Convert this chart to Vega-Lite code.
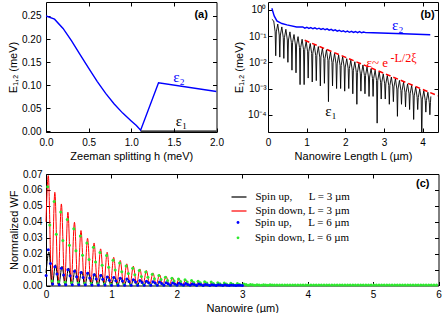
{
"$schema": "https://vega.github.io/schema/vega-lite/v6.json",
"padding": {"left": 7, "top": 1, "right": 0, "bottom": 0},
"config": {
  "view": {"stroke": "black", "strokeWidth": 1},
  "axis": {"domain": false, "grid": false, "tickSize": -4, "tickColor": "black", "tickWidth": 1, "labelFont": "Liberation Sans", "labelFontSize": 10, "labelColor": "black", "titleFont": "Liberation Sans", "titleFontSize": 11, "titleFontWeight": "normal", "titleColor": "black", "labelPadding": 9, "labelFlush": false, "labelOverlap": false, "titlePadding": 3},
  "legend": {"labelFont": "Liberation Serif", "labelFontSize": 11, "labelColor": "black", "padding": 0}
},
"datasets": {
  "a2": [{"h":0,"e":0.25},{"h":0.1,"e":0.243},{"h":0.2,"e":0.223},{"h":0.3,"e":0.196},{"h":0.4,"e":0.166},{"h":0.5,"e":0.137},{"h":0.6,"e":0.108},{"h":0.7,"e":0.082},{"h":0.8,"e":0.059},{"h":0.9,"e":0.039},{"h":1.0,"e":0.022},{"h":1.06,"e":0.012},{"h":1.11,"e":0.002},{"h":1.32,"e":0.105},{"h":2.0,"e":0.086}],
  "a1": [{"h":1.11,"e":0},{"h":2.0,"e":0}],
  "b1": [{"L":0.1,"v":0.437},{"L":0.148,"v":0.38},{"L":0.185,"v":0.145},{"L":0.2,"v":0.0178},{"L":0.215,"v":0.145},{"L":0.253,"v":0.288},{"L":0.29,"v":0.11},{"L":0.305,"v":0.0158},{"L":0.32,"v":0.11},{"L":0.358,"v":0.224},{"L":0.395,"v":0.0871},{"L":0.41,"v":0.0141},{"L":0.425,"v":0.0871},{"L":0.463,"v":0.182},{"L":0.5,"v":0.0708},{"L":0.515,"v":0.01},{"L":0.53,"v":0.0708},{"L":0.568,"v":0.145},{"L":0.605,"v":0.0562},{"L":0.62,"v":0.00501},{"L":0.635,"v":0.0562},{"L":0.673,"v":0.115},{"L":0.71,"v":0.0457},{"L":0.725,"v":0.00398},{"L":0.74,"v":0.0457},{"L":0.778,"v":0.0955},{"L":0.815,"v":0.0363},{"L":0.83,"v":0.00141},{"L":0.845,"v":0.0363},{"L":0.883,"v":0.0759},{"L":0.92,"v":0.0302},{"L":0.935,"v":0.00141},{"L":0.95,"v":0.0302},{"L":0.988,"v":0.0631},{"L":1.025,"v":0.0251},{"L":1.04,"v":0.00251},{"L":1.055,"v":0.0251},{"L":1.093,"v":0.0525},{"L":1.13,"v":0.0219},{"L":1.145,"v":0.00178},{"L":1.16,"v":0.0219},{"L":1.198,"v":0.0457},{"L":1.235,"v":0.0182},{"L":1.25,"v":0.002},{"L":1.265,"v":0.0182},{"L":1.303,"v":0.0398},{"L":1.34,"v":0.0158},{"L":1.355,"v":0.00126},{"L":1.37,"v":0.0158},{"L":1.408,"v":0.0347},{"L":1.445,"v":0.0138},{"L":1.46,"v":0.00158},{"L":1.475,"v":0.0138},{"L":1.513,"v":0.0302},{"L":1.55,"v":0.012},{"L":1.565,"v":0.000316},{"L":1.58,"v":0.012},{"L":1.618,"v":0.0251},{"L":1.655,"v":0.01},{"L":1.67,"v":0.00126},{"L":1.685,"v":0.01},{"L":1.723,"v":0.0219},{"L":1.76,"v":0.00871},{"L":1.775,"v":0.001},{"L":1.79,"v":0.00871},{"L":1.828,"v":0.0191},{"L":1.865,"v":0.00759},{"L":1.88,"v":0.001},{"L":1.895,"v":0.00759},{"L":1.933,"v":0.0166},{"L":1.97,"v":0.00661},{"L":1.985,"v":0.000794},{"L":2.0,"v":0.00661},{"L":2.038,"v":0.0138},{"L":2.075,"v":0.00575},{"L":2.09,"v":0.001},{"L":2.105,"v":0.00575},{"L":2.143,"v":0.012},{"L":2.18,"v":0.00501},{"L":2.195,"v":0.000631},{"L":2.21,"v":0.00501},{"L":2.248,"v":0.0105},{"L":2.285,"v":0.00417},{"L":2.3,"v":0.000251},{"L":2.315,"v":0.00417},{"L":2.353,"v":0.00912},{"L":2.39,"v":0.00363},{"L":2.405,"v":0.000794},{"L":2.42,"v":0.00363},{"L":2.458,"v":0.00794},{"L":2.495,"v":0.00316},{"L":2.51,"v":0.000631},{"L":2.525,"v":0.00316},{"L":2.563,"v":0.00661},{"L":2.6,"v":0.00275},{"L":2.615,"v":0.000501},{"L":2.63,"v":0.00275},{"L":2.668,"v":0.00575},{"L":2.705,"v":0.0024},{"L":2.72,"v":0.000501},{"L":2.735,"v":0.0024},{"L":2.773,"v":0.00501},{"L":2.81,"v":0.002},{"L":2.825,"v":0.0000479},{"L":2.84,"v":0.002},{"L":2.878,"v":0.00437},{"L":2.915,"v":0.00174},{"L":2.93,"v":0.000398},{"L":2.945,"v":0.00174},{"L":2.983,"v":0.00363},{"L":3.02,"v":0.00151},{"L":3.035,"v":0.000398},{"L":3.05,"v":0.00151},{"L":3.088,"v":0.00316},{"L":3.125,"v":0.00132},{"L":3.14,"v":0.000251},{"L":3.155,"v":0.00132},{"L":3.193,"v":0.00275},{"L":3.23,"v":0.00115},{"L":3.245,"v":0.000316},{"L":3.26,"v":0.00115},{"L":3.298,"v":0.0024},{"L":3.335,"v":0.000955},{"L":3.35,"v":0.0000871},{"L":3.365,"v":0.000955},{"L":3.403,"v":0.00204},{"L":3.44,"v":0.000832},{"L":3.455,"v":0.000251},{"L":3.47,"v":0.000832},{"L":3.508,"v":0.00174},{"L":3.545,"v":0.000724},{"L":3.56,"v":0.0002},{"L":3.575,"v":0.000724},{"L":3.613,"v":0.00151},{"L":3.65,"v":0.000631},{"L":3.665,"v":0.000158},{"L":3.68,"v":0.000631},{"L":3.718,"v":0.00132},{"L":3.755,"v":0.000525},{"L":3.77,"v":0.0000661},{"L":3.785,"v":0.000525},{"L":3.823,"v":0.00115},{"L":3.86,"v":0.000457},{"L":3.875,"v":0.000158},{"L":3.89,"v":0.000457},{"L":3.928,"v":0.000955},{"L":3.965,"v":0.000398},{"L":3.98,"v":0.00001},{"L":3.995,"v":0.000398},{"L":4.033,"v":0.000832},{"L":4.07,"v":0.000347},{"L":4.085,"v":0.000126},{"L":4.1,"v":0.000347},{"L":4.138,"v":0.000724},{"L":4.175,"v":0.000288},{"L":4.19,"v":0.0001},{"L":4.205,"v":0.000288},{"L":4.215,"v":0.0005}],
  "b2": [{"L":0.1,"v":1.16},{"L":0.16,"v":0.589},{"L":0.23,"v":0.38},{"L":0.36,"v":0.302},{"L":0.49,"v":0.269},{"L":0.74,"v":0.224},{"L":0.9,"v":0.225},{"L":0.9525,"v":0.202},{"L":1.005,"v":0.218},{"L":1.0575,"v":0.196},{"L":1.11,"v":0.212},{"L":1.1625,"v":0.191},{"L":1.215,"v":0.207},{"L":1.2675,"v":0.186},{"L":1.32,"v":0.201},{"L":1.3725,"v":0.181},{"L":1.425,"v":0.195},{"L":1.4775,"v":0.175},{"L":1.53,"v":0.189},{"L":1.5825,"v":0.169},{"L":1.635,"v":0.181},{"L":1.6875,"v":0.162},{"L":1.74,"v":0.174},{"L":1.7925,"v":0.155},{"L":1.845,"v":0.167},{"L":1.8975,"v":0.149},{"L":1.95,"v":0.16},{"L":2.0025,"v":0.143},{"L":2.055,"v":0.155},{"L":2.1075,"v":0.14},{"L":2.16,"v":0.152},{"L":2.2125,"v":0.138},{"L":2.265,"v":0.15},{"L":2.3175,"v":0.136},{"L":2.37,"v":0.148},{"L":2.4225,"v":0.134},{"L":2.475,"v":0.143},{"L":2.5275,"v":0.136},{"L":2.72,"v":0.135},{"L":3.5,"v":0.123},{"L":4.2,"v":0.112}],
  "bfit": [{"L":0.95,"v":0.0693},{"L":4.4,"v":0.000527}],
  "cred": [{"x":0,"y":0.04},{"x":0.035,"y":0.069},{"x":0.085,"y":0.001},{"x":0.135,"y":0.0585},{"x":0.185,"y":0.001},{"x":0.235,"y":0.0512},{"x":0.285,"y":0.001},{"x":0.335,"y":0.046},{"x":0.385,"y":0.001},{"x":0.435,"y":0.0397},{"x":0.485,"y":0.001},{"x":0.535,"y":0.0345},{"x":0.585,"y":0.001},{"x":0.635,"y":0.0297},{"x":0.685,"y":0.001},{"x":0.735,"y":0.0267},{"x":0.785,"y":0.001},{"x":0.835,"y":0.023},{"x":0.885,"y":0.001},{"x":0.935,"y":0.0209},{"x":0.985,"y":0.001},{"x":1.035,"y":0.0177},{"x":1.085,"y":0.001},{"x":1.135,"y":0.0157},{"x":1.185,"y":0.0008},{"x":1.235,"y":0.0136},{"x":1.285,"y":0.0006},{"x":1.335,"y":0.0121},{"x":1.385,"y":0.0005},{"x":1.435,"y":0.0104},{"x":1.485,"y":0.0004},{"x":1.535,"y":0.0094},{"x":1.585,"y":0.0003},{"x":1.635,"y":0.0079},{"x":1.685,"y":0.0003},{"x":1.735,"y":0.0069},{"x":1.785,"y":0.0003},{"x":1.835,"y":0.0058},{"x":1.885,"y":0.0002},{"x":1.935,"y":0.005},{"x":1.985,"y":0.0002},{"x":2.035,"y":0.0041},{"x":2.085,"y":0.0002},{"x":2.135,"y":0.0035},{"x":2.185,"y":0.0001},{"x":2.235,"y":0.0029},{"x":2.285,"y":0.0001},{"x":2.335,"y":0.0025},{"x":2.385,"y":0.0001},{"x":2.435,"y":0.0021},{"x":2.485,"y":0.0001},{"x":2.535,"y":0.0017},{"x":2.585,"y":0.0001},{"x":2.635,"y":0.0014},{"x":2.685,"y":0},{"x":2.735,"y":0.0011},{"x":2.785,"y":0},{"x":2.835,"y":0.0008},{"x":2.885,"y":0},{"x":2.935,"y":0.0005},{"x":3.0,"y":0}],
  "cblack": [{"x":0,"y":0.008},{"x":0.045,"y":0.021},{"x":0.095,"y":0},{"x":0.145,"y":0.013},{"x":0.195,"y":0},{"x":0.245,"y":0.012},{"x":0.295,"y":0},{"x":0.345,"y":0.011},{"x":0.395,"y":0},{"x":0.445,"y":0.01},{"x":0.495,"y":0},{"x":0.545,"y":0.009},{"x":0.595,"y":0},{"x":0.645,"y":0.0085},{"x":0.695,"y":0},{"x":0.745,"y":0.0075},{"x":0.795,"y":0},{"x":0.845,"y":0.007},{"x":0.895,"y":0},{"x":0.945,"y":0.006},{"x":0.995,"y":0},{"x":1.045,"y":0.0055},{"x":1.095,"y":0},{"x":1.145,"y":0.005},{"x":1.195,"y":0},{"x":1.245,"y":0.0045},{"x":1.295,"y":0},{"x":1.345,"y":0.004},{"x":1.395,"y":0},{"x":1.445,"y":0.0035},{"x":1.495,"y":0},{"x":1.545,"y":0.003},{"x":1.595,"y":0},{"x":1.645,"y":0.0027},{"x":1.695,"y":0},{"x":1.745,"y":0.0024},{"x":1.795,"y":0},{"x":1.845,"y":0.002},{"x":1.895,"y":0},{"x":1.945,"y":0.0018},{"x":1.995,"y":0},{"x":2.045,"y":0.0015},{"x":2.095,"y":0},{"x":2.145,"y":0.0013},{"x":2.195,"y":0},{"x":2.245,"y":0.0011},{"x":2.295,"y":0},{"x":2.345,"y":0.001},{"x":2.395,"y":0},{"x":2.445,"y":0.0008},{"x":2.495,"y":0},{"x":2.545,"y":0.0006},{"x":2.595,"y":0},{"x":2.645,"y":0.0005},{"x":2.695,"y":0},{"x":2.745,"y":0.0004},{"x":2.795,"y":0},{"x":2.845,"y":0.0003},{"x":2.895,"y":0},{"x":2.945,"y":0.0002},{"x":3.0,"y":0}],
  "cgreen": [{"x":0.025,"y":0.062},{"x":0.058,"y":0.038},{"x":0.092,"y":0.0028},{"x":0.125,"y":0.0527},{"x":0.158,"y":0.0322},{"x":0.192,"y":0.0023},{"x":0.225,"y":0.0461},{"x":0.258,"y":0.0282},{"x":0.292,"y":0.002},{"x":0.325,"y":0.0414},{"x":0.358,"y":0.0253},{"x":0.392,"y":0.0018},{"x":0.425,"y":0.0357},{"x":0.458,"y":0.0218},{"x":0.492,"y":0.0016},{"x":0.525,"y":0.031},{"x":0.558,"y":0.019},{"x":0.592,"y":0.0014},{"x":0.625,"y":0.0267},{"x":0.658,"y":0.0163},{"x":0.692,"y":0.0012},{"x":0.725,"y":0.024},{"x":0.758,"y":0.0147},{"x":0.792,"y":0.0011},{"x":0.825,"y":0.0207},{"x":0.858,"y":0.0127},{"x":0.892,"y":0.0009},{"x":0.925,"y":0.0188},{"x":0.958,"y":0.0115},{"x":0.992,"y":0.0008},{"x":1.025,"y":0.0159},{"x":1.058,"y":0.0097},{"x":1.092,"y":0.0007},{"x":1.125,"y":0.0141},{"x":1.158,"y":0.0086},{"x":1.192,"y":0.0006},{"x":1.225,"y":0.0122},{"x":1.258,"y":0.0075},{"x":1.292,"y":0.0005},{"x":1.325,"y":0.0109},{"x":1.358,"y":0.0067},{"x":1.392,"y":0.0005},{"x":1.425,"y":0.0094},{"x":1.458,"y":0.0057},{"x":1.492,"y":0.0004},{"x":1.525,"y":0.0085},{"x":1.558,"y":0.0052},{"x":1.592,"y":0.0004},{"x":1.625,"y":0.0071},{"x":1.658,"y":0.0043},{"x":1.692,"y":0.0003},{"x":1.725,"y":0.0062},{"x":1.758,"y":0.0038},{"x":1.792,"y":0.0003},{"x":1.825,"y":0.0052},{"x":1.858,"y":0.0032},{"x":1.892,"y":0.0002},{"x":1.925,"y":0.0045},{"x":1.958,"y":0.0028},{"x":1.992,"y":0.0002},{"x":2.025,"y":0.0041},{"x":2.058,"y":0.0025},{"x":2.092,"y":0.0002},{"x":2.125,"y":0.0036},{"x":2.158,"y":0.0022},{"x":2.192,"y":0.0002},{"x":2.225,"y":0.0032},{"x":2.258,"y":0.0019},{"x":2.292,"y":0.0001},{"x":2.325,"y":0.0027},{"x":2.358,"y":0.0017},{"x":2.392,"y":0.0001},{"x":2.425,"y":0.0024},{"x":2.458,"y":0.0015},{"x":2.492,"y":0.0001},{"x":2.525,"y":0.0022},{"x":2.558,"y":0.0013},{"x":2.592,"y":0.0001},{"x":2.625,"y":0.0018},{"x":2.658,"y":0.0011},{"x":2.692,"y":0.0001},{"x":2.725,"y":0.0016},{"x":2.758,"y":0.001},{"x":2.792,"y":0.0001},{"x":2.825,"y":0.0014},{"x":2.858,"y":0.0008},{"x":2.892,"y":0.0001},{"x":2.925,"y":0.0012},{"x":2.958,"y":0.0007},{"x":2.992,"y":0.0001},{"x":3.025,"y":0.0009},{"x":3.058,"y":0.0006},{"x":3.092,"y":0.0002},{"x":3.125,"y":0.0007},{"x":3.158,"y":0.0004},{"x":3.192,"y":0.0002},{"x":3.225,"y":0.0005},{"x":3.258,"y":0.0003},{"x":3.292,"y":0.0002},{"x":3.325,"y":0.0004},{"x":3.358,"y":0.0003},{"x":3.392,"y":0.0002},{"x":3.425,"y":0.0004},{"x":3.458,"y":0.0003},{"x":3.492,"y":0.0003},{"x":3.53,"y":0.0003},{"x":3.57,"y":0.0003},{"x":3.61,"y":0.0003},{"x":3.65,"y":0.0003},{"x":3.69,"y":0.0003},{"x":3.73,"y":0.0003},{"x":3.77,"y":0.0003},{"x":3.81,"y":0.0003},{"x":3.85,"y":0.0003},{"x":3.89,"y":0.0003},{"x":3.93,"y":0.0003},{"x":3.97,"y":0.0003},{"x":4.01,"y":0.0003},{"x":4.05,"y":0.0003},{"x":4.09,"y":0.0003},{"x":4.13,"y":0.0003},{"x":4.17,"y":0.0003},{"x":4.21,"y":0.0003},{"x":4.25,"y":0.0003},{"x":4.29,"y":0.0003},{"x":4.33,"y":0.0003},{"x":4.37,"y":0.0003},{"x":4.41,"y":0.0003},{"x":4.45,"y":0.0003},{"x":4.49,"y":0.0003},{"x":4.53,"y":0.0003},{"x":4.57,"y":0.0003},{"x":4.61,"y":0.0003},{"x":4.65,"y":0.0003},{"x":4.69,"y":0.0003},{"x":4.73,"y":0.0003},{"x":4.77,"y":0.0003},{"x":4.81,"y":0.0003},{"x":4.85,"y":0.0003},{"x":4.89,"y":0.0003},{"x":4.93,"y":0.0003},{"x":4.97,"y":0.0003},{"x":5.01,"y":0.0003},{"x":5.05,"y":0.0003},{"x":5.09,"y":0.0003},{"x":5.13,"y":0.0003},{"x":5.17,"y":0.0003},{"x":5.21,"y":0.0003},{"x":5.25,"y":0.0003},{"x":5.29,"y":0.0003},{"x":5.33,"y":0.0003},{"x":5.37,"y":0.0003},{"x":5.41,"y":0.0003},{"x":5.45,"y":0.0003},{"x":5.49,"y":0.0003},{"x":5.53,"y":0.0003},{"x":5.57,"y":0.0003},{"x":5.61,"y":0.0003},{"x":5.65,"y":0.0003},{"x":5.69,"y":0.0003},{"x":5.73,"y":0.0003},{"x":5.77,"y":0.0003},{"x":5.81,"y":0.0003},{"x":5.85,"y":0.0003},{"x":5.89,"y":0.0003},{"x":5.93,"y":0.0003},{"x":5.97,"y":0.0003}],
  "cblue": [{"x":0.002,"y":0.0063},{"x":0.035,"y":0.0225},{"x":0.068,"y":0.0138},{"x":0.102,"y":0.001},{"x":0.135,"y":0.0117},{"x":0.168,"y":0.0072},{"x":0.202,"y":0.0005},{"x":0.235,"y":0.0108},{"x":0.268,"y":0.0066},{"x":0.302,"y":0.0005},{"x":0.335,"y":0.0099},{"x":0.368,"y":0.0061},{"x":0.402,"y":0.0004},{"x":0.435,"y":0.009},{"x":0.468,"y":0.0055},{"x":0.502,"y":0.0004},{"x":0.535,"y":0.0081},{"x":0.568,"y":0.005},{"x":0.602,"y":0.0004},{"x":0.635,"y":0.0077},{"x":0.668,"y":0.0047},{"x":0.702,"y":0.0003},{"x":0.735,"y":0.0068},{"x":0.768,"y":0.0041},{"x":0.802,"y":0.0003},{"x":0.835,"y":0.0063},{"x":0.868,"y":0.0039},{"x":0.902,"y":0.0003},{"x":0.935,"y":0.0054},{"x":0.968,"y":0.0033},{"x":1.002,"y":0.0002},{"x":1.035,"y":0.005},{"x":1.068,"y":0.003},{"x":1.102,"y":0.0002},{"x":1.135,"y":0.0045},{"x":1.168,"y":0.0028},{"x":1.202,"y":0.0002},{"x":1.235,"y":0.0041},{"x":1.268,"y":0.0025},{"x":1.302,"y":0.0002},{"x":1.335,"y":0.0036},{"x":1.368,"y":0.0022},{"x":1.402,"y":0.0002},{"x":1.435,"y":0.0032},{"x":1.468,"y":0.0019},{"x":1.502,"y":0.0001},{"x":1.535,"y":0.0027},{"x":1.568,"y":0.0017},{"x":1.602,"y":0.0001},{"x":1.635,"y":0.0024},{"x":1.668,"y":0.0015},{"x":1.702,"y":0.0001},{"x":1.735,"y":0.0022},{"x":1.768,"y":0.0013},{"x":1.802,"y":0.0001},{"x":1.835,"y":0.0018},{"x":1.868,"y":0.0011},{"x":1.902,"y":0.0001},{"x":1.935,"y":0.0016},{"x":1.968,"y":0.001},{"x":2.002,"y":0.0001},{"x":2.035,"y":0.0014},{"x":2.068,"y":0.0008},{"x":2.102,"y":0.0001},{"x":2.135,"y":0.0012},{"x":2.168,"y":0.0007},{"x":2.202,"y":0.0001},{"x":2.235,"y":0.001},{"x":2.268,"y":0.0006},{"x":2.302,"y":0},{"x":2.335,"y":0.0009},{"x":2.368,"y":0.0006},{"x":2.402,"y":0},{"x":2.435,"y":0.0007},{"x":2.468,"y":0.0004},{"x":2.502,"y":0},{"x":2.535,"y":0.0005},{"x":2.568,"y":0.0003},{"x":2.602,"y":0},{"x":2.635,"y":0.0005},{"x":2.668,"y":0.0003},{"x":2.702,"y":0},{"x":2.735,"y":0.0004},{"x":2.768,"y":0.0002},{"x":2.802,"y":0},{"x":2.835,"y":0.0003},{"x":2.868,"y":0.0002},{"x":2.902,"y":0},{"x":2.935,"y":0.0002},{"x":2.968,"y":0.0001},{"x":3.002,"y":0}]
},
"vconcat": [
  {"hconcat": [
    {"width": 170.5, "height": 130,
     "layer": [
      {"data": {"name": "a2"}, "mark": {"type": "line", "color": "#0000ff", "strokeWidth": 1.4, "clip": true},
       "encoding": {
        "x": {"field": "h", "type": "quantitative", "scale": {"domain": [0, 2], "nice": false}, "axis": {"orient": "bottom", "values": [0, 0.5, 1, 1.5, 2], "format": ".1f", "title": "Zeeman splitting h (meV)"}},
        "y": {"field": "e", "type": "quantitative", "scale": {"domain": [-0.002, 0.2804], "nice": false, "zero": false}, "axis": {"orient": "left", "values": [0, 0.05, 0.1, 0.15, 0.2, 0.25], "format": ".2f", "title": "E₁,₂ (meV)"}}}},
      {"data": {"name": "a1"}, "mark": {"type": "line", "color": "black", "strokeWidth": 1.4},
       "encoding": {
        "x": {"field": "h", "type": "quantitative", "axis": {"orient": "top", "values": [0.5, 1, 1.5], "labels": false, "title": null}},
        "y": {"field": "e", "type": "quantitative", "axis": {"orient": "right", "values": [0.05, 0.1, 0.15, 0.2, 0.25], "labels": false, "title": null}}}},
      {"data": {"values": [{}]}, "mark": {"type": "text", "font": "Liberation Serif", "fontSize": 15, "color": "#0000ff"},
       "encoding": {"x": {"datum": 1.56, "type": "quantitative", "axis": null}, "y": {"datum": 0.118, "type": "quantitative", "axis": null}, "text": {"value": "ε₂"}}},
      {"data": {"values": [{}]}, "mark": {"type": "text", "font": "Liberation Serif", "fontSize": 15, "color": "black"},
       "encoding": {"x": {"datum": 1.59, "type": "quantitative", "axis": null}, "y": {"datum": 0.021, "type": "quantitative", "axis": null}, "text": {"value": "ε₁"}}},
      {"data": {"values": [{}]}, "mark": {"type": "text", "font": "Liberation Sans", "fontSize": 11, "fontWeight": "bold", "color": "black"},
       "encoding": {"x": {"datum": 1.82, "type": "quantitative", "axis": null}, "y": {"datum": 0.252, "type": "quantitative", "axis": null}, "text": {"value": "(a)"}}}
     ],
     "resolve": {"axis": {"x": "independent", "y": "independent"}}
    },
    {"width": 170, "height": 130,
     "layer": [
      {"data": {"name": "b1"}, "mark": {"type": "line", "color": "black", "strokeWidth": 0.9, "clip": true},
       "encoding": {
        "x": {"field": "L", "type": "quantitative", "scale": {"domain": [0, 4.4], "nice": false}, "axis": {"orient": "bottom", "values": [0, 1, 2, 3, 4], "format": "d", "title": "Nanowire Length L (µm)"}},
        "y": {"field": "v", "type": "quantitative", "scale": {"type": "log", "domain": [0.000022, 2.0], "nice": false}, "axis": {"orient": "left", "values": [1, 0.1, 0.01, 0.001, 0.0001], "labelExpr": "'10' + ['⁰','⁻¹','⁻²','⁻³','⁻⁴','⁻⁵'][round(-log(datum.value)/LN10)]", "labelPadding": 6, "title": "E₁,₂ (meV)"}}}},
      {"data": {"name": "bfit"}, "mark": {"type": "line", "color": "#ff0000", "strokeWidth": 1.5, "strokeDash": [5, 3], "clip": true},
       "encoding": {
        "x": {"field": "L", "type": "quantitative", "axis": {"orient": "top", "values": [1, 2, 3, 4], "labels": false, "title": null}},
        "y": {"field": "v", "type": "quantitative", "axis": {"orient": "right", "values": [1, 0.1, 0.01, 0.001, 0.0001], "labels": false, "title": null}}}},
      {"data": {"name": "b2"}, "mark": {"type": "line", "color": "#0000ff", "strokeWidth": 1.4, "clip": true},
       "encoding": {
        "x": {"field": "L", "type": "quantitative", "axis": null},
        "y": {"field": "v", "type": "quantitative", "axis": null}}},
      {"data": {"values": [{}]}, "mark": {"type": "text", "font": "Liberation Serif", "fontSize": 15, "color": "#0000ff"},
       "encoding": {"x": {"datum": 3.36, "type": "quantitative", "axis": null}, "y": {"datum": 0.27, "type": "quantitative", "axis": null}, "text": {"value": "ε₂"}}},
      {"data": {"values": [{}]}, "mark": {"type": "text", "font": "Liberation Serif", "fontSize": 15, "color": "black"},
       "encoding": {"x": {"datum": 1.63, "type": "quantitative", "axis": null}, "y": {"datum": 0.00014, "type": "quantitative", "axis": null}, "text": {"value": "ε₁"}}},
      {"data": {"values": [{}]}, "mark": {"type": "text", "font": "Liberation Serif", "fontSize": 13, "color": "#ff0000", "align": "left"},
       "encoding": {"x": {"datum": 2.55, "type": "quantitative", "axis": null}, "y": {"datum": 0.0095, "type": "quantitative", "axis": null}, "text": {"value": "ε~ e"}}},
      {"data": {"values": [{}]}, "mark": {"type": "text", "font": "Liberation Serif", "fontSize": 12, "color": "#ff0000", "align": "left"},
       "encoding": {"x": {"datum": 3.17, "type": "quantitative", "axis": null}, "y": {"datum": 0.014, "type": "quantitative", "axis": null}, "text": {"value": "-L/2ξ"}}},
      {"data": {"values": [{}]}, "mark": {"type": "text", "font": "Liberation Sans", "fontSize": 11, "fontWeight": "bold", "color": "black"},
       "encoding": {"x": {"datum": 4.13, "type": "quantitative", "axis": null}, "y": {"datum": 0.645, "type": "quantitative", "axis": null}, "text": {"value": "(b)"}}}
     ],
     "resolve": {"axis": {"x": "independent", "y": "independent"}}
    }
  ], "spacing": 51, "bounds": "flush"},
  {"width": 392.5, "height": 111.5,
   "layer": [
    {"data": {"name": "cred"}, "mark": {"type": "line", "strokeWidth": 1, "interpolate": "monotone"},
     "encoding": {
      "x": {"field": "x", "type": "quantitative", "scale": {"domain": [0, 6], "nice": false}, "axis": {"orient": "bottom", "values": [0, 1, 2, 3, 4, 5, 6], "format": "d", "title": "Nanowire (µm)", "labelPadding": 8}},
      "y": {"field": "y", "type": "quantitative", "scale": {"domain": [0, 0.07], "nice": false}, "axis": {"orient": "left", "values": [0, 0.01, 0.02, 0.03, 0.04, 0.05, 0.06, 0.07], "format": ".2f", "title": "Normralized WF", "labelPadding": 8}},
      "stroke": {"datum": "Spin down, L = 3 µm", "scale": {"domain": ["Spin up,\u00a0\u00a0\u00a0\u00a0\u00a0\u00a0L = 3 µm", "Spin down, L = 3 µm"], "range": ["black", "#ff0000"]}, "legend": {"orient": "none", "legendX": 184.5, "legendY": 186.5, "title": null, "symbolType": "stroke", "symbolSize": 225, "symbolStrokeWidth": 1.2, "labelOffset": 8, "rowPadding": -0.7}}}},
    {"data": {"name": "cblack"}, "mark": {"type": "line", "strokeWidth": 1, "interpolate": "monotone"},
     "encoding": {
      "x": {"field": "x", "type": "quantitative", "axis": {"orient": "top", "values": [1, 2, 3, 4, 5], "labels": false, "title": null}},
      "y": {"field": "y", "type": "quantitative", "axis": {"orient": "right", "values": [0.01, 0.02, 0.03, 0.04, 0.05, 0.06], "labels": false, "title": null}},
      "stroke": {"datum": "Spin up,\u00a0\u00a0\u00a0\u00a0\u00a0\u00a0L = 3 µm"}}},
    {"data": {"name": "cgreen"}, "mark": {"type": "circle", "size": 9, "opacity": 1},
     "encoding": {
      "x": {"field": "x", "type": "quantitative", "axis": null},
      "y": {"field": "y", "type": "quantitative", "axis": null},
      "fill": {"datum": "Spin down, L = 6 µm", "scale": {"domain": ["Spin up,\u00a0\u00a0\u00a0\u00a0\u00a0\u00a0L = 6 µm", "Spin down, L = 6 µm"], "range": ["#0000ff", "#2ee82e"]}, "legend": {"orient": "none", "legendX": 186.5, "legendY": 215, "title": null, "symbolType": "circle", "symbolSize": 8, "symbolStrokeWidth": 0, "labelOffset": 11.5, "rowPadding": 3.3}}}},
    {"data": {"name": "cblue"}, "mark": {"type": "circle", "size": 9, "opacity": 1},
     "encoding": {
      "x": {"field": "x", "type": "quantitative", "axis": null},
      "y": {"field": "y", "type": "quantitative", "axis": null},
      "fill": {"datum": "Spin up,\u00a0\u00a0\u00a0\u00a0\u00a0\u00a0L = 6 µm"}}},
    {"data": {"values": [{}]}, "mark": {"type": "text", "font": "Liberation Sans", "fontSize": 11, "fontWeight": "bold", "color": "black"},
     "encoding": {"x": {"datum": 5.76, "type": "quantitative", "axis": null}, "y": {"datum": 0.0636, "type": "quantitative", "axis": null}, "text": {"value": "(c)"}}}
   ],
   "resolve": {"axis": {"x": "independent", "y": "independent"}}
  }
],
"spacing": 6,
"bounds": "full"
}
